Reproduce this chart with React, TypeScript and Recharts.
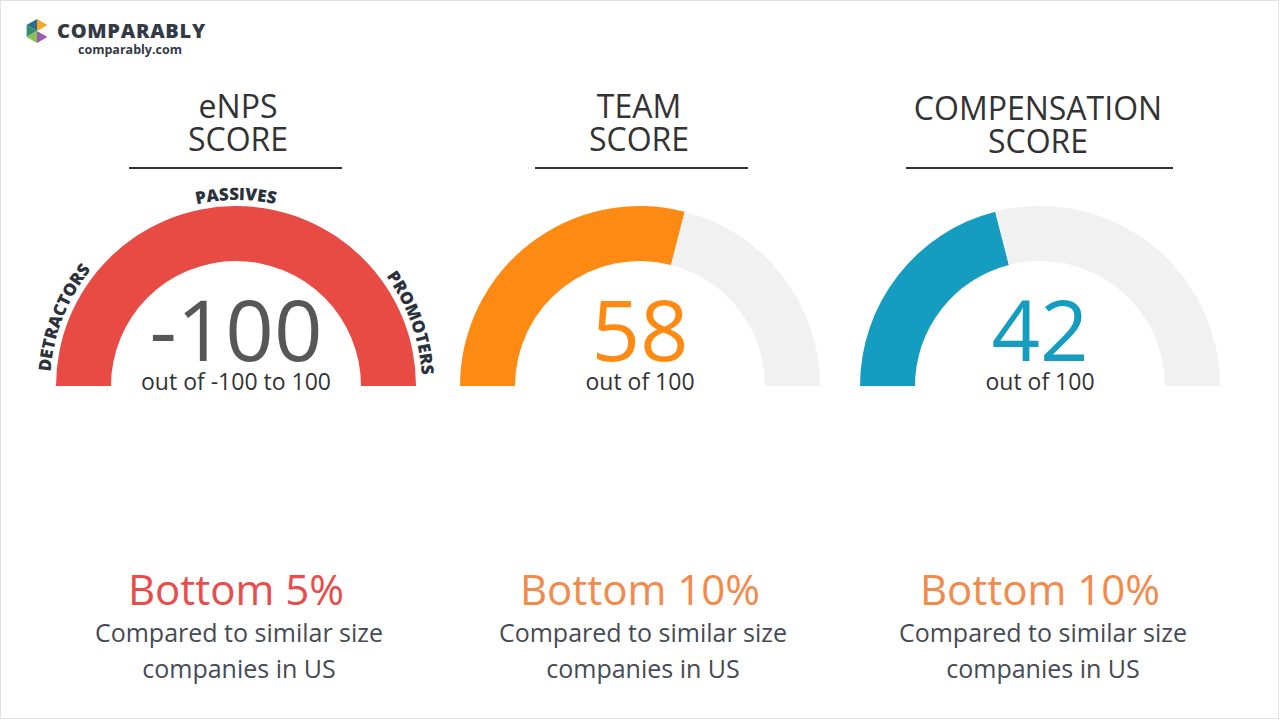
import React from "react";
import { PieChart, Pie, Cell } from "recharts";

// ---- data ----
const titleLine1 = ["eNPS", "TEAM", "COMPENSATION"];
const titleLine2 = ["SCORE", "SCORE", "SCORE"];
const scores = [-100, 58, 42];
const scaleMin = [-100, 0, 0];
const scaleMax = [100, 100, 100];
const scaleLabels = ["out of -100 to 100", "out of 100", "out of 100"];
const rankLabels = ["Bottom 5%", "Bottom 10%", "Bottom 10%"];
const compareLine1 = "Compared to similar size";
const compareLine2 = "companies in US";
const enpsZones = ["DETRACTORS", "PASSIVES", "PROMOTERS"];
const enpsZoneOffsets = ["12%", "50%", "89%"];

// ---- style ----
const W = 1280;
const H = 720;
const centersX = [236, 640, 1040];
const gaugeCY = 386;
const innerR = 125;
const outerR = 180;
const fillColors = ["#e84a44", "#fd8b13", "#159cc1"];
const numberColors = ["#575757", "#fd8b13", "#159cc1"];
const rankColors = ["#e84c4b", "#f28a4c", "#f28a4c"];
const trackColor = "#f1f1f1";
const FONT = "'Open Sans', 'Noto Sans', sans-serif";
const underline = [
  [129, 342],
  [535, 748],
  [906, 1173],
];
const titleX = [238, 639, 1038];
const titleBase = [
  [118, 151],
  [118, 151],
  [120, 153],
];

function gaugeData(i: number) {
  if (i === 0) {
    // eNPS gauge is drawn as a full band over its range
    return [{ name: "range", value: scaleMax[0] - scaleMin[0], fill: fillColors[0] }];
  }
  const v = scores[i] - scaleMin[i];
  const rest = scaleMax[i] - scores[i];
  return [
    { name: "score", value: v, fill: fillColors[i] },
    { name: "rest", value: rest, fill: trackColor },
  ];
}

const renderZones = (props: any) => {
  const { cx, cy, outerRadius } = props;
  const r = outerRadius + 6;
  const d = `M ${cx - r} ${cy} A ${r} ${r} 0 0 1 ${cx + r} ${cy}`;
  return (
    <g key="zones">
      <path id="enpsArcPath" d={d} fill="none" stroke="none" />
      {enpsZones.map((z, i) => (
        <text key={z} fontFamily={FONT} fontSize={17} fontWeight={800} fill="#2b323c">
          <textPath href="#enpsArcPath" startOffset={enpsZoneOffsets[i]} textAnchor="middle">
            {z}
          </textPath>
        </text>
      ))}
    </g>
  );
};

function Logo() {
  const cx = 37;
  const cy = 31;
  const r = 12;
  const pt = (deg: number, rr: number = r) => {
    const a = (deg * Math.PI) / 180;
    return `${cx + rr * Math.cos(a)},${cy - rr * Math.sin(a)}`;
  };
  const c = `${cx},${cy}`;
  return (
    <g>
      <polygon points={`${c} ${pt(30)} ${pt(90)}`} fill="#f5a623" />
      <polygon points={`${c} ${pt(90)} ${pt(150)}`} fill="#2c6e8f" />
      <polygon points={`${c} ${pt(150)} ${pt(210)}`} fill="#2f8f6a" />
      <polygon points={`${c} ${pt(210)} ${pt(270)}`} fill="#8cc152" />
      <polygon points={`${c} ${pt(270)} ${pt(330)}`} fill="#9b59b6" />
      <polygon points={`${pt(0, 5)} ${pt(30, 14)} ${pt(330, 14)}`} fill="#ffffff" />
      <text x={57} y={38} fontFamily={FONT} fontSize={20} fontWeight={800} letterSpacing={0.7} fill="#343a45">
        COMPARABLY
      </text>
      <text x={130} y={54} textAnchor="middle" fontFamily={FONT} fontSize={12.5} fontWeight={700} fill="#343a45">
        comparably.com
      </text>
    </g>
  );
}

export default function App() {
  return (
    <div
      style={{
        position: "absolute",
        left: 0,
        top: 0,
        width: W,
        height: H,
        background: "#ffffff",
        overflow: "hidden",
      }}
    >
      <PieChart width={W} height={H} margin={{ top: 0, right: 0, bottom: 0, left: 0 }}>
        {[0, 1, 2].map((i) => (
          <Pie
            key={i}
            data={gaugeData(i)}
            dataKey="value"
            nameKey="name"
            cx={centersX[i]}
            cy={gaugeCY}
            innerRadius={innerR}
            outerRadius={outerR}
            startAngle={180}
            endAngle={0}
            stroke="none"
            paddingAngle={0}
            isAnimationActive={false}
            label={i === 0 ? renderZones : false}
            labelLine={false}
          >
            {gaugeData(i).map((d, j) => (
              <Cell key={j} fill={d.fill} />
            ))}
          </Pie>
        ))}
      </PieChart>
      <svg width={W} height={H} style={{ position: "absolute", left: 0, top: 0, pointerEvents: "none" }}>
        <rect x={0.5} y={0.5} width={W - 2} height={H - 2} fill="none" stroke="#e2e2e2" strokeWidth={1} />
        <Logo />
        {[0, 1, 2].map((i) => (
          <g key={i} fontFamily={FONT}>
            <text x={titleX[i]} y={titleBase[i][0]} textAnchor="middle" fontSize={32} fill="#333333">
              {titleLine1[i]}
            </text>
            <text x={titleX[i]} y={titleBase[i][1]} textAnchor="middle" fontSize={32} fill="#333333">
              {titleLine2[i]}
            </text>
            <line x1={underline[i][0]} x2={underline[i][1]} y1={168} y2={168} stroke="#333333" strokeWidth={2} />
            <text x={centersX[i]} y={361} textAnchor="middle" fontSize={85} fill={numberColors[i]}>
              {scores[i]}
            </text>
            <text x={centersX[i]} y={390} textAnchor="middle" fontSize={23} fill="#333333">
              {scaleLabels[i]}
            </text>
            <text x={centersX[i]} y={605} textAnchor="middle" fontSize={42} fill={rankColors[i]}>
              {rankLabels[i]}
            </text>
            <text x={centersX[i] + 3} y={642} textAnchor="middle" fontSize={25} fill="#454b54">
              {compareLine1}
            </text>
            <text x={centersX[i] + 3} y={678} textAnchor="middle" fontSize={25} fill="#454b54">
              {compareLine2}
            </text>
          </g>
        ))}
      </svg>
    </div>
  );
}
